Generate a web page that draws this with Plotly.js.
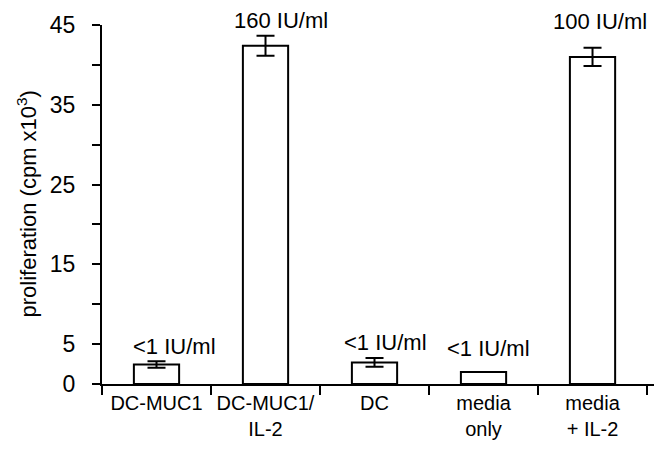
<!DOCTYPE html>
<html>
<head>
<meta charset="utf-8">
<script src="https://cdn.plot.ly/plotly-3.0.1.min.js"></script>
<style>html,body{margin:0;padding:0;background:#fff;}#chart{width:654px;height:450px;}</style>
</head>
<body>
<div id="chart"></div>
<script>
// Data
var categories = ['DC-MUC1', 'DC-MUC1/<br>IL-2', 'DC', 'media<br>only', 'media<br>+ IL-2'];
var proliferation = [2.45, 42.4, 2.7, 1.5, 41.0];
var errors = [0.4, 1.25, 0.55, 0, 1.15];
var ifnLabels = ['<1 IU/ml', '160 IU/ml', '<1 IU/ml', '<1 IU/ml', '100 IU/ml'];
var yTickVals = [0, 5, 10, 15, 20, 25, 30, 35, 40, 45];
var yTickText = ['0', '5', '', '15', '', '25', '', '35', '', '45'];

// Label placement (layout only)
var labelY = [4.65, 45, 5.25, 4.4, 45];
var labelYShift = [0, 5, 0, 0, 4];
var labelXShift = [18, 15, 11, 5, 7];

var FONT = 'Liberation Sans, Arial, Helvetica, sans-serif';

var trace = {
  type: 'bar',
  x: categories,
  y: proliferation,
  marker: { color: '#ffffff', line: { color: '#000000', width: 2 } },
  error_y: { type: 'data', array: errors, visible: true, color: '#000000', thickness: 2, width: 9 },
  hoverinfo: 'skip'
};

var annotations = ifnLabels.map(function (t, i) {
  return {
    x: categories[i], y: labelY[i], xref: 'x', yref: 'y',
    text: t, showarrow: false, xshift: labelXShift[i], yshift: labelYShift[i],
    font: { family: FONT, size: 22, color: '#000' },
    xanchor: 'center', yanchor: 'middle'
  };
});
annotations.push({
  xref: 'paper', yref: 'paper', x: 0, y: 0.5, xshift: -76,
  text: 'proliferation (cpm x10<sup>3</sup>)', textangle: -90, showarrow: false,
  font: { family: FONT, size: 22, color: '#000' },
  xanchor: 'center', yanchor: 'middle'
});

var layout = {
  width: 654, height: 450,
  margin: { l: 102, r: 0, t: 25, b: 66 },
  paper_bgcolor: '#ffffff', plot_bgcolor: '#ffffff',
  showlegend: false,
  bargap: 0.585,
  font: { family: FONT, size: 20, color: '#000' },
  xaxis: {
    type: 'category',
    range: [-0.5, 4.564],
    showline: true, linecolor: '#000', linewidth: 2,
    ticks: 'outside', ticklen: 9, tickwidth: 2, tickcolor: '#000',
    tickson: 'boundaries',
    showgrid: false, zeroline: false,
    tickfont: { family: FONT, size: 20, color: '#000' },
    fixedrange: true
  },
  yaxis: {
    range: [0, 45],
    tickmode: 'array', tickvals: yTickVals, ticktext: yTickText,
    showline: true, linecolor: '#000', linewidth: 2,
    ticks: 'outside', ticklen: 8, tickwidth: 2, tickcolor: '#000',
    ticklabelstandoff: 12,
    showgrid: false, zeroline: false,
    tickfont: { family: FONT, size: 23, color: '#000' },
    fixedrange: true
  },
  annotations: annotations
};

Plotly.newPlot('chart', [trace], layout, { staticPlot: true, displayModeBar: false });
</script>
</body>
</html>
